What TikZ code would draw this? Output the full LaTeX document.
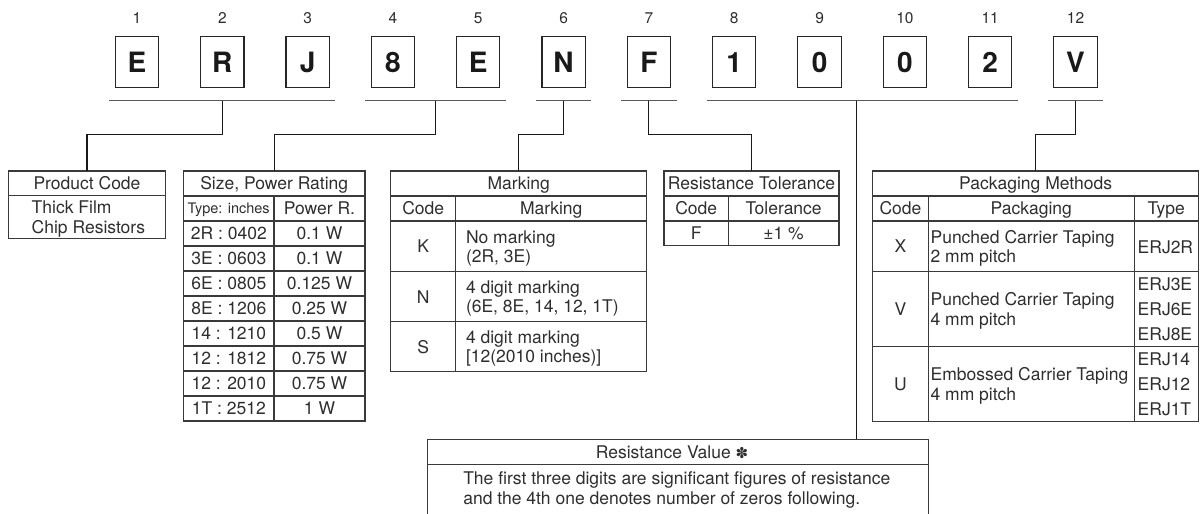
\documentclass[tikz,border=0pt]{standalone}
\usepackage{fontspec}
\setmainfont{TeX Gyre Heros}
\newfontfamily\symfont{DejaVu Sans}
\usetikzlibrary{calc}
\definecolor{txt}{HTML}{2E2E2E}
\definecolor{rule}{HTML}{3A3A3A}
\begin{document}
\begin{tikzpicture}[x=1pt,y=-1pt,
 every node/.style={inner sep=0pt,outer sep=0pt},
 codebox/.style={draw=black!85,line width=1.1pt,minimum width=43.3pt,minimum height=50.6pt,font=\fontsize{28}{30}\selectfont\bfseries,text=black!90,text height=20pt,text depth=0pt},
 numlab/.style={font=\fontsize{15.5}{17}\selectfont,text=txt,text height=11pt,text depth=0pt},
 uline/.style={draw=black!65,line width=1.4pt},
 conn/.style={draw=black!90,line width=1.1pt},
 frame/.style={draw=rule,line width=1.3pt,anchor=north west},
 grid/.style={draw=rule,line width=1.3pt},
 cell/.style={font=\fontsize{17.5}{19}\selectfont,text=txt,text height=12.6pt,text depth=0pt},
 cellw/.style={cell,anchor=west},
 small/.style={font=\fontsize{14.5}{16}\selectfont,text=txt,text height=10.4pt,text depth=0pt},
]
\useasboundingbox (0,0) rectangle (1200,514);

% code letters and position numbers
\foreach \ch [count=\i] in {E,R,J,8,E,N,F,1,0,0,2,V} {
  \node[codebox] (c\i) at ({137+85.32*(\i-1)},62) {\ch};
  \node[numlab] (n\i) at ({137+85.32*(\i-1)},18.3) {\i};
}

% underlines
\draw[uline] ($(c1.south west)+(-6,13.4)$) -- ($(c3.south east)+(6,13.4)$);
\draw[uline] ($(c4.south west)+(-6,13.4)$) -- ($(c5.south east)+(6,13.4)$);
\draw[uline] ($(c6.south west)+(-6,13.4)$) -- ($(c6.south east)+(6,13.4)$);
\draw[uline] ($(c7.south west)+(-6,13.4)$) -- ($(c7.south east)+(6,13.4)$);
\draw[uline] ($(c8.south west)+(-6,13.4)$) -- ($(c11.south east)+(6,13.4)$);
\draw[uline] ($(c12.south west)+(-6,13.4)$) -- ($(c12.south east)+(6,13.4)$);

\coordinate (g1) at (222.3,100.7);
\coordinate (g2) at (435.3,100.7);
\coordinate (g3) at (563.6,100.7);
\coordinate (g4) at (648.9,100.7);
\coordinate (g5) at (856.4,100.7);
\coordinate (g6) at (1075.5,100.7);

% ---------- Product Code
\node[frame,minimum width=157.4pt,minimum height=67.3pt] (pc) at (8.3,171) {};
\draw[grid] (8.3,195.7) -- (165.7,195.7);
\node[cell] (pct) at (87,183.4) {Product Code};
\node[cellw] (pc1) at (31.7,207.3) {Thick Film};
\node[cellw] (pc2) at (31.7,227.6) {Chip Resistors};

% ---------- Size, Power Rating
\node[frame,minimum width=181.7pt,minimum height=250pt] (sz) at (183.3,171) {};
\foreach \yy in {196,221,246,271,296,321,346,371,396} \draw[grid] (183.3,\yy) -- (365,\yy);
\draw[grid] (274,196) -- (274,421);
\node[cell] (szt) at (274.2,183.5) {Size, Power Rating};
\node[small] (szh1) at (228.7,208.5) {Type: inches};
\node[cell] (szh2) at (319.5,208.5) {Power R.};
\foreach \a/\b [count=\k from 0] in {2R : 0402/0.1 W,3E : 0603/0.1 W,6E : 0805/0.125 W,8E : 1206/0.25 W,14 : 1210/0.5 W,12 : 1812/0.75 W,12 : 2010/0.75 W,1T : 2512/1 W} {
  \node[cell] (sza\k) at (228.9,{233.5+25*\k}) {\a};
  \node[cell] (szb\k) at (319.5,{233.5+25*\k}) {\b};
}

% ---------- Marking
\node[frame,minimum width=256pt,minimum height=200.7pt] (mk) at (390.7,171) {};
\foreach \yy in {196,221,271.7,321.7} \draw[grid] (390.7,\yy) -- (646.7,\yy);
\draw[grid] (455.7,196) -- (455.7,371.7);
\node[cell] (mkt) at (518.7,183.5) {Marking};
\node[cell] (mkh1) at (423.2,208.5) {Code};
\node[cell] (mkh2) at (551.2,208.5) {Marking};
\node[cell] (mkk) at (423.2,246.3) {K};
\node[cellw] (mkk1) at (466,236.8) {No marking};
\node[cellw] (mkk2) at (466,256) {(2R, 3E)};
\node[cell] (mkn) at (423.2,296.7) {N};
\node[cellw] (mkn1) at (466,287.2) {4 digit marking};
\node[cellw] (mkn2) at (466,306.4) {(6E, 8E, 14, 12, 1T)};
\node[cell] (mks) at (423.2,346.7) {S};
\node[cellw] (mks1) at (466,337.2) {4 digit marking};
\node[cellw] (mks2) at (466,356.4) {[12(2010 inches)]};

% ---------- Resistance Tolerance
\node[frame,minimum width=175pt,minimum height=74.7pt] (tl) at (664,171) {};
\foreach \yy in {196,221} \draw[grid] (664,\yy) -- (839,\yy);
\draw[grid] (728.3,196) -- (728.3,245.7);
\node[cell] (tlt) at (751.5,183.5) {Resistance Tolerance};
\node[cell] (tlh1) at (696.2,208.5) {Code};
\node[cell] (tlh2) at (783.6,208.5) {Tolerance};
\node[cell] (tlf) at (696.2,233.4) {F};
\node[cell] (tlv) at (783.6,233.4) {±1 \%};

% ---------- Packaging Methods
\node[frame,minimum width=325.8pt,minimum height=250.7pt] (pk) at (872.7,171) {};
\foreach \yy in {196,221,271.7,346.7} \draw[grid] (872.7,\yy) -- (1198.5,\yy);
\draw[grid] (928.3,196) -- (928.3,421.7);
\draw[grid] (1134.3,196) -- (1134.3,421.7);
\node[cell] (pkt) at (1035.6,183.5) {Packaging Methods};
\node[cell] (pkh1) at (900.5,208.5) {Code};
\node[cell] (pkh2) at (1031.3,208.5) {Packaging};
\node[cell] (pkh3) at (1166.2,208.5) {Type};
\node[cell] (pkx) at (900.5,246.3) {X};
\node[cellw] (pkx1) at (930.6,237.3) {Punched Carrier Taping};
\node[cellw] (pkx2) at (930.6,256.6) {2 mm pitch};
\node[cellw] (pkx3) at (1137.7,247.3) {ERJ2R};
\node[cell] (pkv) at (900.5,309.2) {V};
\node[cellw] (pkv1) at (930.6,299.5) {Punched Carrier Taping};
\node[cellw] (pkv2) at (930.6,318.8) {4 mm pitch};
\node[cellw] (pkv3) at (1137.7,284.2) {ERJ3E};
\node[cellw] (pkv4) at (1137.7,309.2) {ERJ6E};
\node[cellw] (pkv5) at (1137.7,334.2) {ERJ8E};
\node[cell] (pku) at (900.5,384.2) {U};
\node[cellw] (pku1) at (930.6,374.5) {Embossed Carrier Taping};
\node[cellw] (pku2) at (930.6,393.8) {4 mm pitch};
\node[cellw] (pku3) at (1137.7,359.2) {ERJ14};
\node[cellw] (pku4) at (1137.7,384.2) {ERJ12};
\node[cellw] (pku5) at (1137.7,409.2) {ERJ1T};

% ---------- Resistance Value
\node[frame,minimum width=501pt,minimum height=90pt] (rv) at (427.3,439.3) {};
\draw[grid] (427.3,464.3) -- (928.3,464.3);
\node[cell] (rvt) at (672,451.8) {Resistance Value {\symfont\fontsize{15}{17}\selectfont\bfseries ✽}};
\node[cellw] (rv1) at (463.3,478.3) {The first three digits are significant figures of resistance};
\node[cellw] (rv2) at (463.3,498.3) {and the 4th one denotes number of zeros following.};

% ---------- connectors
\draw[conn] (g1) -- ++(0,33.6) -| (pc.north);
\draw[conn] (g2) -- ++(0,33.6) -| (sz.north);
\draw[conn] (g3) -- ++(0,33.6) -| (mk.north);
\draw[conn] (g4) -- ++(0,33.6) -| (tl.north);
\draw[conn] (g5) -- (g5 |- rv.north);
\draw[conn] (g6) -- ++(0,33.6) -| (pk.north);
\end{tikzpicture}
\end{document}
